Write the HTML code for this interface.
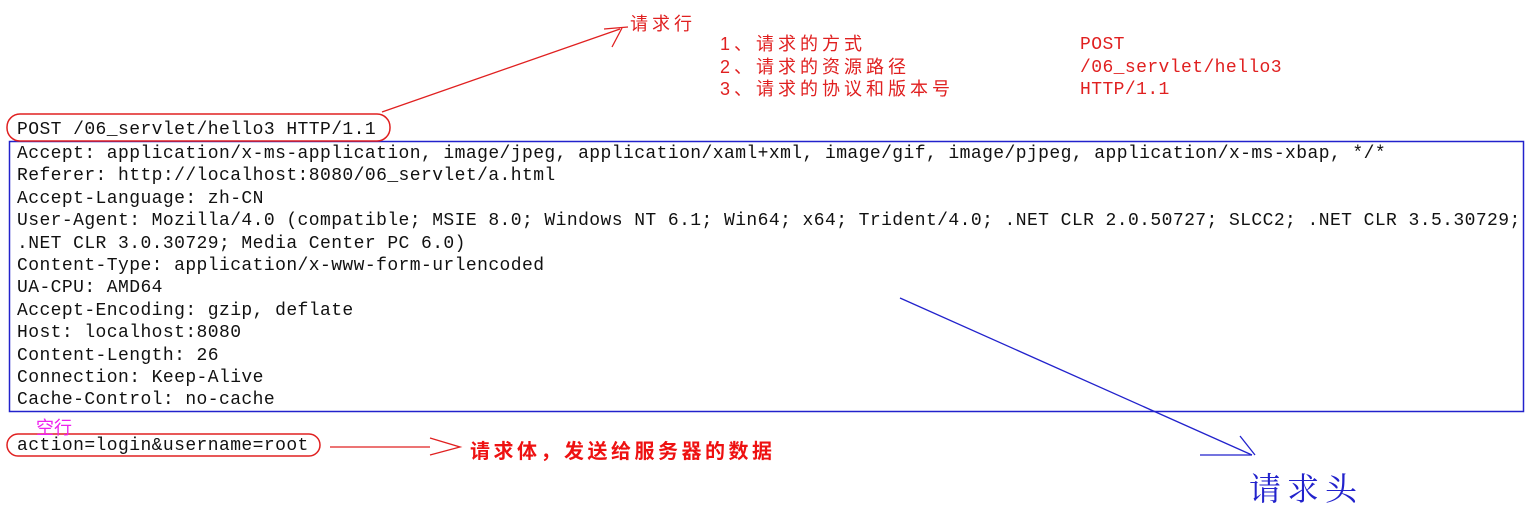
<!DOCTYPE html>
<html><head><meta charset="utf-8"><style>
html,body{margin:0;padding:0;background:#fff;width:1526px;height:505px;overflow:hidden;position:relative}
.m{position:absolute;left:17px;font-family:"Liberation Mono",monospace;font-size:18px;letter-spacing:0.42px;color:#111;white-space:pre;line-height:22.4px}
.cn{position:absolute;font-family:"Liberation Sans","Noto Sans CJK SC",sans-serif;white-space:pre}
svg{position:absolute;left:0;top:0}
</style></head><body>
<svg width="1526" height="505">
<rect x="9.5" y="141.5" width="1514" height="270" fill="none" stroke="#2222cc" stroke-width="1.5"/>
<rect x="7" y="114" width="383" height="27" rx="13" fill="none" stroke="#e02020" stroke-width="1.5"/>
<rect x="7" y="434" width="313" height="22" rx="11" fill="none" stroke="#e02020" stroke-width="1.5"/>
<line x1="382" y1="112" x2="620" y2="29" stroke="#e02020" stroke-width="1.3"/>
<line x1="604" y1="29" x2="628" y2="27" stroke="#e02020" stroke-width="1.3"/>
<line x1="622" y1="28" x2="612" y2="47" stroke="#e02020" stroke-width="1.3"/>
<line x1="330" y1="447" x2="430" y2="447" stroke="#e02020" stroke-width="1.3"/>
<polyline points="430,438 460,447 430,455" fill="none" stroke="#e02020" stroke-width="1.3"/>
<line x1="900" y1="298" x2="1252" y2="455" stroke="#2222cc" stroke-width="1.3"/>
<line x1="1200" y1="455" x2="1252" y2="455" stroke="#2222cc" stroke-width="1.3"/>
<line x1="1240" y1="436" x2="1255" y2="455" stroke="#2222cc" stroke-width="1.3"/>
</svg>
<div class="m" style="top:119px">POST /06_servlet/hello3 HTTP/1.1</div>
<div class="m" style="top:143px">Accept: application/x-ms-application, image/jpeg, application/xaml+xml, image/gif, image/pjpeg, application/x-ms-xbap, */*
Referer: http://localhost:8080/06_servlet/a.html
Accept-Language: zh-CN
User-Agent: Mozilla/4.0 (compatible; MSIE 8.0; Windows NT 6.1; Win64; x64; Trident/4.0; .NET CLR 2.0.50727; SLCC2; .NET CLR 3.5.30729;
.NET CLR 3.0.30729; Media Center PC 6.0)
Content-Type: application/x-www-form-urlencoded
UA-CPU: AMD64
Accept-Encoding: gzip, deflate
Host: localhost:8080
Content-Length: 26
Connection: Keep-Alive
Cache-Control: no-cache</div>
<div class="m" style="top:435px">action=login&amp;username=root</div>
<div class="cn" style="left:630px;top:10px;font-size:18px;letter-spacing:4px;color:#e02020">请求行</div>
<div class="cn" style="left:720px;top:33px;font-size:18px;line-height:22.5px;letter-spacing:4px;color:#e02020">1、请求的方式
2、请求的资源路径
3、请求的协议和版本号</div>
<div class="m" style="left:1080px;top:34px;line-height:22.5px;color:#e02020">POST
/06_servlet/hello3
HTTP/1.1</div>
<div class="cn" style="left:36px;top:414px;font-size:18px;color:#ee22ee">空行</div>
<div class="cn" style="left:470px;top:435px;font-size:20px;letter-spacing:3.5px;font-weight:bold;color:#ee1111">请求体，发送给服务器的数据</div>
<div class="cn" style="left:1249px;top:464px;font-size:32px;color:#2222cc;font-family:'Liberation Serif','Noto Serif CJK SC',serif;letter-spacing:6px">请求头</div>
</body></html>
